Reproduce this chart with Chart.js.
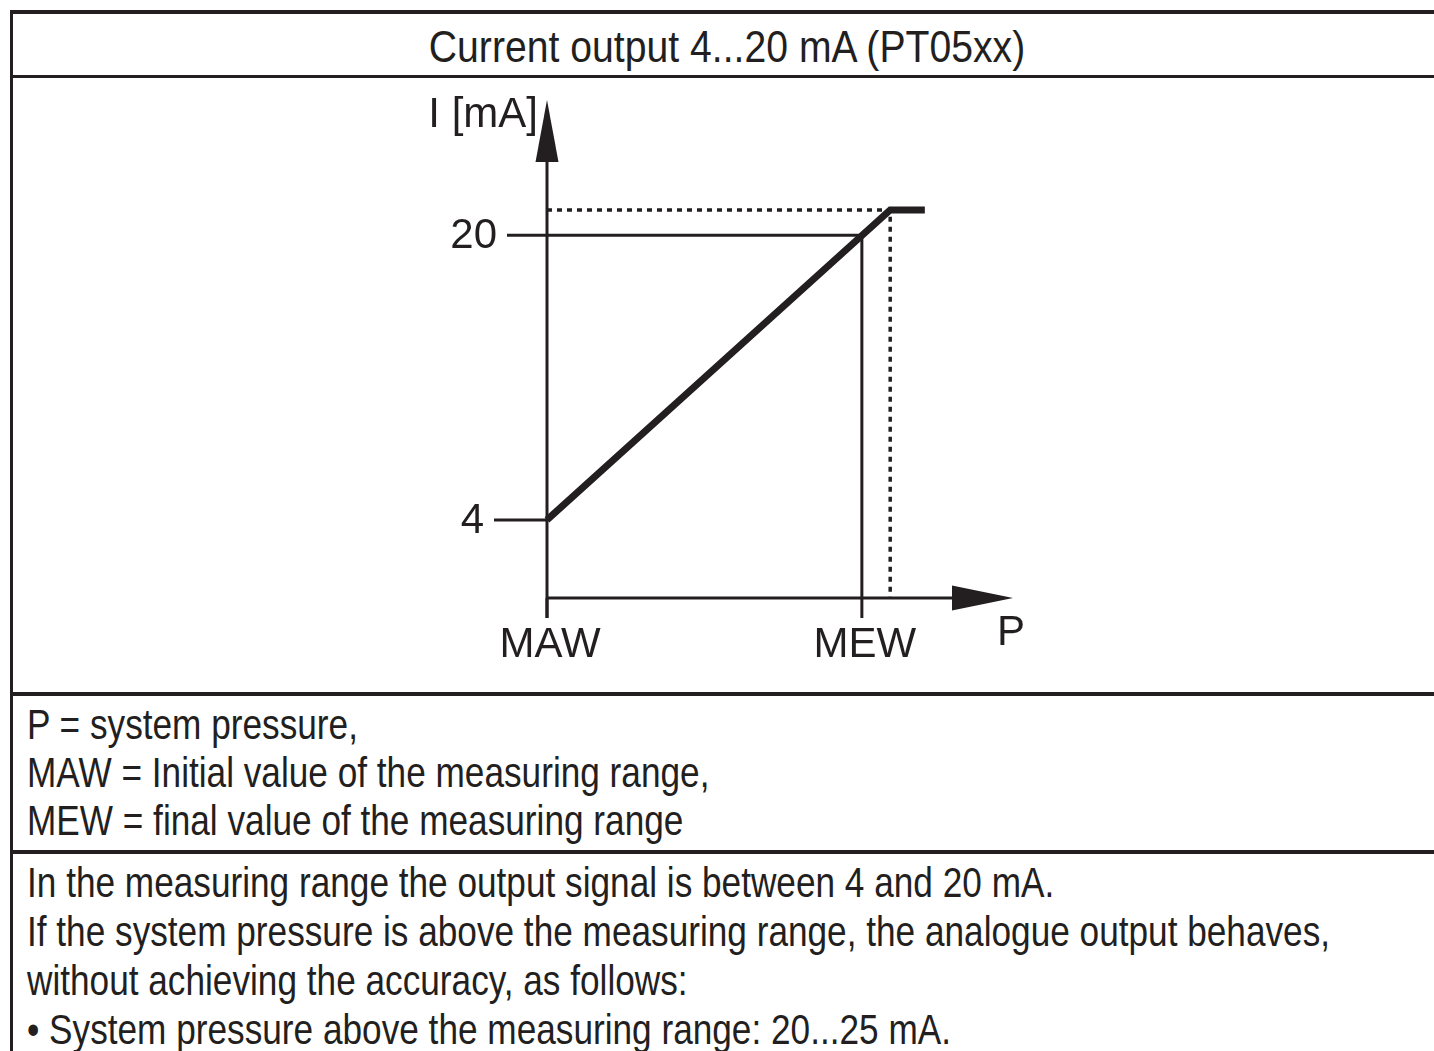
<!DOCTYPE html>
<html>
<head>
<meta charset="utf-8">
<script src="https://cdn.jsdelivr.net/npm/chart.js"></script>
<style>
  body { margin: 0; background: #fff; width: 1434px; height: 1051px; overflow: hidden; position: relative; }
  .txt { position: absolute; font-family: "Liberation Sans", Arial, sans-serif; color: #231f20; white-space: nowrap; }
  .rule { position: absolute; left: 10px; width: 1424px; background: #231f20; }
  #frameLeft { position: absolute; left: 10px; top: 10px; width: 3px; height: 1041px; background: #231f20; }
  #chart { position: absolute; left: 0; top: 0; }
  /* the print uses a condensed face, squeeze the regular one */
  #title { transform: scaleX(0.89); transform-origin: 727px 0; }
  #legend, #notes { transform: scaleX(0.838); transform-origin: 0 0; }
</style>
</head>
<body>
<div id="frameLeft"></div>
<div class="rule" style="top:10px;height:4px"></div>
<div class="rule" style="top:75px;height:3px"></div>
<div class="rule" style="top:692px;height:4px"></div>
<div class="rule" style="top:850px;height:4px"></div>

<div class="txt" id="title" style="left:0px;width:1454px;top:25px;font-size:44px;line-height:44px;text-align:center"></div>
<div class="txt" id="legend" style="left:27px;top:701px;font-size:42px;line-height:48px"></div>
<div class="txt" id="notes" style="left:27px;top:858px;font-size:42px;line-height:49px"></div>

<canvas id="chart" width="1434" height="1051"></canvas>

<script>
// values (x: MAW = 0, MEW = 1)
const pressure = [0, 1.09, 1.2]
const current = [4, 21.42, 21.42]
const tickCurrent = [4, 20]
const tickPressure = [0, 1]
const tickPressureLabels = ['MAW', 'MEW']
const limitPressure = 1.09
const limitCurrent = 21.42
const xMin = 0, xMax = 1.48
const yMin = -0.39, yMax = 27.6

const titleText = 'Current output 4...20 mA (PT05xx)'
const legendLines = ['P = system pressure,', 'MAW = Initial value of the measuring range,', 'MEW = final value of the measuring range']
const noteLines = ['In the measuring range the output signal is between 4 and 20 mA.',
    'If the system pressure is above the measuring range, the analogue output behaves,',
    'without achieving the accuracy, as follows:',
    '\u2022 System pressure above the measuring range: 20...25 mA.']

document.getElementById('title').textContent = titleText
document.getElementById('legend').innerHTML = legendLines.join('<br>')
document.getElementById('notes').innerHTML = noteLines.join('<br>')

const ink = '#231f20'
const font = '42px "Liberation Sans", Arial, sans-serif'

const mainLine = pressure.map((p, i) => ({x: p, y: current[i]}))
const refLine = [{x: xMin, y: tickCurrent[1]}, {x: tickPressure[1], y: tickCurrent[1]}, {x: tickPressure[1], y: yMin}]
const dotLine = [{x: xMin, y: limitCurrent}, {x: limitPressure, y: limitCurrent}, {x: limitPressure, y: yMin}]

// axes with arrow heads, ticks and labels
const axesPlugin = {
    id: 'axes',
    beforeDatasetsDraw(chart) {
        const ctx = chart.ctx
        const a = chart.chartArea
        const xs = chart.scales.x, ys = chart.scales.y
        ctx.save()
        ctx.strokeStyle = ink
        ctx.fillStyle = ink
        ctx.lineWidth = 3
        ctx.lineCap = 'butt'

        // y axis
        ctx.beginPath()
        ctx.moveTo(a.left, a.bottom + 20)
        ctx.lineTo(a.left, a.top + 55)
        ctx.stroke()
        ctx.beginPath()
        ctx.moveTo(a.left, a.top)
        ctx.lineTo(a.left - 11.5, a.top + 62)
        ctx.lineTo(a.left + 11.5, a.top + 62)
        ctx.closePath()
        ctx.fill()

        // x axis
        ctx.beginPath()
        ctx.moveTo(a.left, a.bottom)
        ctx.lineTo(a.right - 55, a.bottom)
        ctx.stroke()
        ctx.beginPath()
        ctx.moveTo(a.right, a.bottom)
        ctx.lineTo(a.right - 61, a.bottom - 12.5)
        ctx.lineTo(a.right - 61, a.bottom + 12.5)
        ctx.closePath()
        ctx.fill()

        ctx.font = font
        ctx.textBaseline = 'alphabetic'

        // current ticks
        const tickLen = [53, 40]
        ctx.textAlign = 'right'
        tickCurrent.forEach((v, i) => {
            const y = ys.getPixelForValue(v)
            ctx.beginPath()
            ctx.moveTo(a.left - tickLen[i], y)
            ctx.lineTo(a.left, y)
            ctx.stroke()
            ctx.fillText(String(v), a.left - tickLen[i] - 10, y + 13)
        })

        // pressure ticks
        ctx.textAlign = 'center'
        tickPressure.forEach((v, i) => {
            const x = xs.getPixelForValue(v)
            ctx.beginPath()
            ctx.moveTo(x, a.bottom)
            ctx.lineTo(x, a.bottom + 20)
            ctx.stroke()
            ctx.fillText(tickPressureLabels[i], x + 3, a.bottom + 59)
        })

        // axis titles
        ctx.textAlign = 'right'
        ctx.fillText('I [mA]', a.left - 9, a.top + 27)
        ctx.textAlign = 'left'
        ctx.fillText('P', a.right - 16, a.bottom + 47)
        ctx.restore()
    }
}

new Chart(document.getElementById('chart'), {
    type: 'scatter',
    data: {
        datasets: [
            {data: mainLine, showLine: true, borderColor: ink, borderWidth: 7, pointRadius: 0,
             borderCapStyle: 'butt', borderJoinStyle: 'miter', clip: false},
            {data: refLine, showLine: true, borderColor: ink, borderWidth: 3, pointRadius: 0, clip: false},
            {data: dotLine, showLine: true, borderColor: ink, borderWidth: 3.5, borderDash: [5, 5], pointRadius: 0, clip: false}
        ]
    },
    options: {
        responsive: false,
        animation: false,
        events: [],
        layout: {padding: {left: 547, right: 1434 - 1013, top: 100, bottom: 1051 - 598}},
        plugins: {legend: {display: false}, tooltip: {enabled: false}},
        scales: {
            x: {type: 'linear', display: false, min: xMin, max: xMax},
            y: {type: 'linear', display: false, min: yMin, max: yMax}
        }
    },
    plugins: [axesPlugin]
})
</script>
</body>
</html>
